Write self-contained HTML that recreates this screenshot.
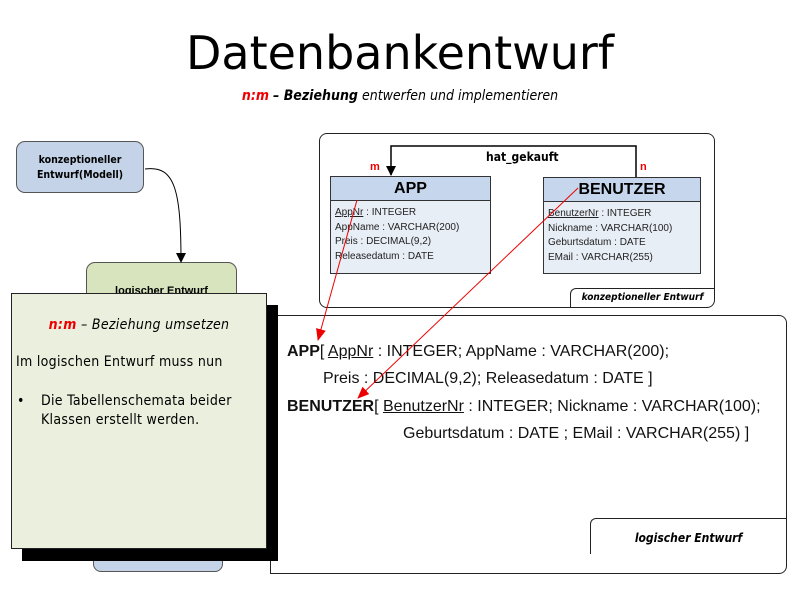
<!DOCTYPE html>
<html><head><meta charset="utf-8"><style>
body{margin:0;width:800px;height:600px;background:#fff;position:relative;overflow:hidden;font-family:"Liberation Sans",sans-serif}
.a{position:absolute}
.t{font-size:14px;line-height:19px;font-family:"DejaVu Sans Condensed","Liberation Sans",sans-serif}
.att{font-size:10px;line-height:14.5px;color:#222;padding:5px 4px}
.l{font-size:16px;color:#111;white-space:nowrap}
</style></head><body>
<div class="a" style="left:0;width:800px;top:26px;text-align:center;font-size:46px;font-family:'DejaVu Sans','Liberation Sans',sans-serif">Datenbankentwurf</div>
<div class="a" style="left:0;width:800px;top:88px;text-align:center;font-size:14px;font-style:italic;font-family:'DejaVu Sans Condensed','Liberation Sans',sans-serif"><b style="color:#e00">n:m</b> <b>– Beziehung</b> entwerfen und implementieren</div>

<div class="a" style="left:16px;top:141px;width:128px;height:52px;background:#c4d3e8;border:1px solid #555;border-radius:9px;text-align:center;font-size:10.5px;font-weight:bold;line-height:15px;padding-top:11px;box-sizing:border-box;font-family:'DejaVu Sans Condensed',sans-serif">konzeptioneller<br>Entwurf(Modell)</div>
<div class="a" style="left:86px;top:262px;width:151px;height:60px;background:#d7e4bd;border:1px solid #555;border-radius:9px;text-align:center;font-size:11px;font-weight:bold;padding-top:22px;box-sizing:border-box">logischer Entwurf</div>
<div class="a" style="left:93px;top:540px;width:128px;height:30px;background:#c4d3e8;border:1px solid #555;border-radius:8px"></div>

<div class="a" style="left:319px;top:133px;width:394px;height:173px;border:1px solid #222;border-radius:8px"></div>
<div class="a" style="left:570px;top:288px;width:143px;height:18px;border:1px solid #222;border-radius:6px 0 0 0;border-right:none;border-bottom:none;font-size:10px;font-style:italic;font-weight:bold;text-align:center;line-height:18px;font-family:'DejaVu Sans Condensed',sans-serif">konzeptioneller Entwurf</div>

<div class="a" style="left:330px;top:176px;width:159px;height:96px;border:1px solid #333;background:#e8eef6">
<div style="height:23px;background:#c6d6ec;border-bottom:1px solid #333;text-align:center;font-weight:bold;font-size:16px;line-height:23px">APP</div>
<div class="att"><u>AppNr</u> : INTEGER<br>AppName : VARCHAR(200)<br>Preis : DECIMAL(9,2)<br>Releasedatum : DATE</div></div>
<div class="a" style="left:543px;top:177px;width:156px;height:95px;border:1px solid #333;background:#e8eef6">
<div style="height:23px;background:#c6d6ec;border-bottom:1px solid #333;text-align:center;font-weight:bold;font-size:16px;line-height:23px">BENUTZER</div>
<div class="att"><u>BenutzerNr</u> : INTEGER<br>Nickname : VARCHAR(100)<br>Geburtsdatum : DATE<br>EMail : VARCHAR(255)</div></div>
<div class="a" style="left:486px;top:150px;font-size:12px;font-weight:bold;font-family:'DejaVu Sans Condensed',sans-serif">hat_gekauft</div>
<div class="a" style="left:370px;top:161px;font-size:11px;font-weight:bold;color:#e00">m</div>
<div class="a" style="left:640px;top:161px;font-size:11px;font-weight:bold;color:#e00">n</div>

<div class="a" style="left:270px;top:315px;width:515px;height:257px;border:1px solid #222;border-radius:0 8px 8px 0"></div>
<div class="a" style="left:590px;top:518px;width:195px;height:35px;border:1px solid #222;border-radius:6px 0 0 0;border-right:none;border-bottom:none;font-size:12px;font-style:italic;font-weight:bold;text-align:center;line-height:38px;font-family:'DejaVu Sans Condensed',sans-serif">logischer Entwurf</div>
<div class="a l" style="left:287px;top:343px"><b>APP</b>[ <u>AppNr</u> : INTEGER; AppName : VARCHAR(200);</div>
<div class="a l" style="left:323px;top:370px">Preis : DECIMAL(9,2); Releasedatum : DATE ]</div>
<div class="a l" style="left:287px;top:398px"><b>BENUTZER</b>[ <u>BenutzerNr</u> : INTEGER; Nickname : VARCHAR(100);</div>
<div class="a l" style="left:403px;top:425px">Geburtsdatum : DATE ; EMail : VARCHAR(255) ]</div>

<svg class="a" style="left:0;top:0" width="800" height="600">
<defs><marker id="k" markerWidth="10" markerHeight="10" refX="9" refY="5" orient="auto" markerUnits="userSpaceOnUse"><path d="M0,0 L10,5 L0,10z" fill="#000"/></marker>
<marker id="r" markerWidth="12" markerHeight="12" refX="11" refY="6" orient="auto" markerUnits="userSpaceOnUse"><path d="M0,1 L12,6 L0,11z" fill="#e00"/></marker></defs>
<path d="M145,169 C175,165 181,190 181,262" fill="none" stroke="#000" stroke-width="1" marker-end="url(#k)"/>
<path d="M636,177 V146 H391 V175" fill="none" stroke="#000" stroke-width="1.5" marker-end="url(#k)"/>
</svg>

<div class="a" style="left:22px;top:305px;width:256px;height:256px;background:#000"></div>
<div class="a" style="left:11px;top:293px;width:256px;height:256px;background:#ebf0de;border:1px solid #222;box-sizing:border-box">
<div class="t" style="text-align:center;margin-top:22px;font-style:italic;letter-spacing:0.3px"><b style="color:#e00">n:m</b> – Beziehung umsetzen</div>
<div class="t" style="margin:18px 0 0 4px;letter-spacing:0.3px">Im logischen Entwurf muss nun</div>
<div class="t" style="margin:20px 0 0 4px;position:relative;padding-left:25px;width:200px;letter-spacing:0.3px"><span style="position:absolute;left:1px">•</span>Die Tabellenschemata beider Klassen erstellt werden.</div>
</div>

<svg class="a" style="left:0;top:0" width="800" height="600">
<line x1="357" y1="200" x2="318" y2="340" stroke="#e00" stroke-width="1" marker-end="url(#r)"/>
<line x1="578" y1="188" x2="358" y2="398" stroke="#e00" stroke-width="1" marker-end="url(#r)"/>
</svg>
</body></html>
